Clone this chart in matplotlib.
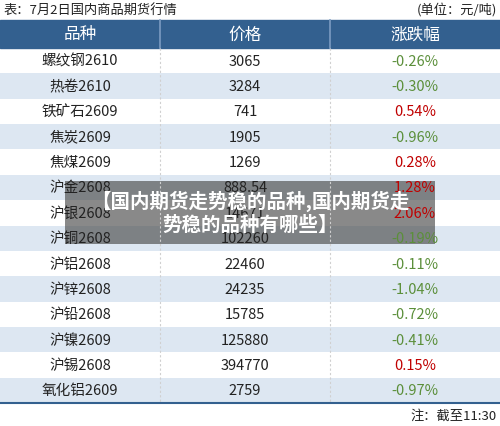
import matplotlib
matplotlib.use("Agg")
import matplotlib.pyplot as plt
from matplotlib.patches import Rectangle

plt.rcParams['font.family'] = ['Noto Sans CJK SC', 'DejaVu Sans']

names = ["螺纹钢2610","热卷2610","铁矿石2609","焦炭2609","焦煤2609","沪金2608","沪银2608",
         "沪铜2608","沪铝2608","沪锌2608","沪铅2608","沪镍2609","沪锡2608","氧化铝2609"]
prices = ["3065","3284","741","1905","1269","888.54","14671","102260","22460","24235",
          "15785","125880","394770","2759"]
changes = [-0.26,-0.30,0.54,-0.96,0.28,1.28,2.06,-0.19,-0.11,-1.04,-0.72,-0.41,0.15,-0.97]
headers = ["品种","价格","涨跌幅"]

W, H = 500, 427
fig = plt.figure(figsize=(W/100, H/100), dpi=100)
ax = fig.add_axes([0,0,1,1])
ax.set_xlim(0, W); ax.set_ylim(H, 0); ax.axis('off')

ax.text(3, 10, "表：7月2日国内商品期货行情", fontsize=9.5, va='center', ha='left', color='#222')
ax.text(497, 10, "(单位：元/吨)", fontsize=9.5, va='center', ha='right', color='#222')

cols = [0, 160, 330, 500]
top, hh = 21, 28
ax.add_patch(Rectangle((0, top), W, hh, color='#33608f'))
for i, h in enumerate(headers):
    ax.text((cols[i]+cols[i+1])/2, top+hh/2, h, fontsize=12, color='white', ha='center', va='center')
for x in cols[1:3]:
    ax.plot([x, x], [top, top+hh], color='#7c9cc2', lw=1.2)

y0 = top + hh
rh = (404 - y0) / len(names)
for r in range(len(names)):
    y = y0 + r*rh
    if r % 2 == 1:
        ax.add_patch(Rectangle((0, y), W, rh, color='#dde7f2', lw=0))
    yc = y + rh/2
    ax.text(80, yc, names[r], fontsize=10.5, ha='center', va='center', color='#222')
    ax.text(245, yc, prices[r], fontsize=10.5, ha='center', va='center', color='#222')
    c = changes[r]
    ax.text(415, yc, f"{c:.2f}%", fontsize=10.5, ha='center', va='center',
            color='#c00000' if c > 0 else '#5b8f3a')
for x in cols[1:3]:
    ax.plot([x, x], [y0, 404], color='#d0d0d0', lw=0.8, ls=(0, (2, 2)))
ax.plot([0, W], [404, 404], color='#33608f', lw=1.5)
ax.text(497, 416, "注：截至11:30", fontsize=9.5, ha='right', va='center', color='#222')

ax.add_patch(Rectangle((65, 182), 370, 63, color='#4a4a4a', alpha=0.65, lw=0))
ax.text(250, 213, "【国内期货走势稳的品种,国内期货走\n势稳的品种有哪些】", fontsize=14, fontweight='bold',
        color='white', ha='center', va='center', linespacing=1.25)

fig.savefig("out.png", dpi=100)
